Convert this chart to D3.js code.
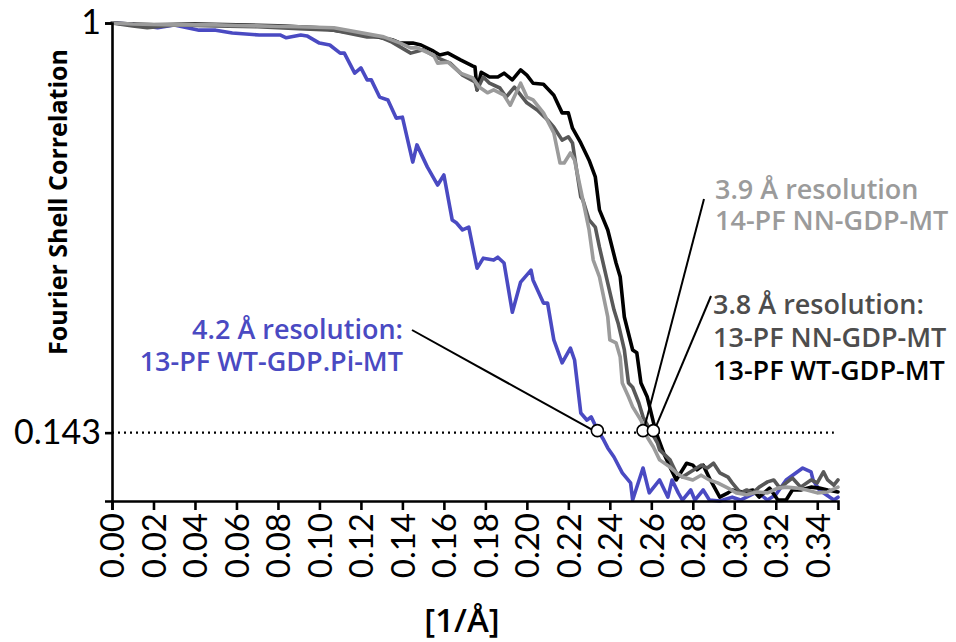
<!DOCTYPE html>
<html>
<head>
<meta charset="utf-8">
<script src="https://cdn.jsdelivr.net/npm/d3@7"></script>
<style>
  html, body { margin: 0; padding: 0; background: #fff; }
  svg { display: block; }
</style>
</head>
<body>
<svg id="chart" width="956" height="642"></svg>
<script>
// ---------- DATA ----------
const xTicks = [0.00,0.02,0.04,0.06,0.08,0.10,0.12,0.14,0.16,0.18,0.20,0.22,0.24,0.26,0.28,0.30,0.32,0.34];
const yTicks = [1, 0.143];
const threshold = 0.143;

// 13-PF WT-GDP.Pi-MT (blue)
const wtPiFreq = [0,0.009,0.022,0.030,0.042,0.050,0.058,0.071,0.081,0.084,0.091,0.094,0.100,0.105,0.110,0.112,0.117,0.120,0.123,0.125,0.129,0.133,0.137,0.140,0.145,0.147,0.152,0.157,0.160,0.164,0.166,0.169,0.172,0.176,0.179,0.184,0.186,0.189,0.193,0.197,0.202,0.203,0.208,0.210,0.213,0.217,0.221,0.223,0.226,0.229,0.231,0.234,0.237,0.239,0.242,0.246,0.250,0.251,0.256,0.259,0.264,0.268,0.270,0.273,0.275,0.279,0.281,0.285,0.288,0.293,0.299,0.303,0.311,0.316,0.320,0.325,0.333,0.337,0.338,0.341,0.348,0.350];
const wtPiFsc  = [1.000,0.998,0.990,0.996,0.985,0.985,0.979,0.975,0.975,0.969,0.975,0.973,0.958,0.954,0.937,0.937,0.895,0.906,0.881,0.881,0.845,0.839,0.801,0.803,0.709,0.745,0.699,0.661,0.682,0.588,0.582,0.567,0.573,0.487,0.508,0.504,0.510,0.498,0.395,0.458,0.483,0.462,0.414,0.414,0.337,0.289,0.320,0.295,0.184,0.169,0.176,0.149,0.128,0.111,0.092,0.059,0.038,0.002,0.069,0.017,0.044,0.008,0.044,0.017,0.002,0.023,0.002,0.023,0.002,0.000,0.008,0.002,0.019,0.002,0.013,0.044,0.069,0.061,0.044,0.023,0.002,0.008];

// 13-PF WT-GDP-MT (black)
const wtFreq = [0,0.010,0.020,0.040,0.060,0.080,0.100,0.107,0.123,0.135,0.139,0.145,0.149,0.155,0.158,0.162,0.168,0.174,0.175,0.176,0.178,0.182,0.186,0.189,0.193,0.197,0.200,0.203,0.208,0.213,0.217,0.220,0.222,0.226,0.230,0.233,0.235,0.239,0.243,0.245,0.247,0.251,0.253,0.255,0.258,0.261,0.263,0.266,0.269,0.272,0.277,0.280,0.282,0.285,0.288,0.293,0.297,0.299,0.304,0.309,0.312,0.317,0.321,0.325,0.328,0.332,0.337,0.341,0.345,0.350];
const wtFsc  = [1.000,0.998,0.996,0.998,0.996,0.994,0.990,0.985,0.975,0.965,0.958,0.958,0.954,0.941,0.933,0.937,0.923,0.910,0.908,0.860,0.897,0.887,0.887,0.895,0.881,0.902,0.891,0.874,0.872,0.849,0.812,0.812,0.780,0.749,0.713,0.678,0.609,0.567,0.498,0.469,0.385,0.316,0.310,0.247,0.218,0.165,0.135,0.100,0.071,0.044,0.079,0.075,0.065,0.075,0.048,0.008,0.017,0.023,0.019,0.023,0.008,0.027,0.002,0.002,0.023,0.023,0.029,0.027,0.023,0.019];

// 13-PF NN-GDP-MT (dark grey)
const nn13Freq = [0,0.010,0.017,0.030,0.050,0.070,0.090,0.107,0.123,0.129,0.135,0.144,0.150,0.157,0.163,0.169,0.175,0.176,0.179,0.182,0.187,0.190,0.194,0.200,0.205,0.210,0.213,0.217,0.220,0.222,0.224,0.226,0.227,0.230,0.233,0.235,0.239,0.242,0.244,0.247,0.249,0.251,0.254,0.256,0.259,0.263,0.264,0.269,0.272,0.275,0.279,0.284,0.287,0.290,0.293,0.297,0.299,0.303,0.306,0.309,0.312,0.316,0.319,0.322,0.325,0.328,0.332,0.337,0.340,0.343,0.345,0.348,0.350];
const nn13Fsc  = [1.000,0.994,0.990,0.996,0.994,0.992,0.988,0.985,0.971,0.971,0.960,0.937,0.944,0.927,0.916,0.891,0.877,0.860,0.887,0.874,0.864,0.845,0.866,0.833,0.818,0.797,0.782,0.755,0.762,0.749,0.692,0.636,0.630,0.588,0.573,0.531,0.456,0.400,0.372,0.316,0.247,0.238,0.205,0.176,0.152,0.121,0.107,0.086,0.059,0.050,0.061,0.075,0.069,0.079,0.059,0.050,0.038,0.017,0.023,0.017,0.029,0.040,0.044,0.027,0.038,0.048,0.029,0.044,0.038,0.061,0.044,0.033,0.044];

// 14-PF NN-GDP-MT (light grey)
const nn14Freq = [0,0.010,0.030,0.050,0.070,0.090,0.107,0.131,0.139,0.144,0.147,0.155,0.157,0.162,0.168,0.174,0.177,0.181,0.184,0.189,0.192,0.197,0.200,0.203,0.208,0.213,0.216,0.218,0.221,0.223,0.226,0.227,0.230,0.232,0.235,0.239,0.240,0.243,0.245,0.246,0.249,0.251,0.255,0.258,0.261,0.264,0.269,0.272,0.275,0.280,0.284,0.288,0.292,0.297,0.301,0.306,0.311,0.316,0.321,0.325,0.330,0.335,0.340,0.345,0.350];
const nn14Fsc  = [1.000,0.998,0.996,0.996,0.994,0.992,0.990,0.971,0.958,0.948,0.948,0.933,0.916,0.918,0.895,0.885,0.866,0.854,0.860,0.849,0.828,0.874,0.845,0.839,0.812,0.770,0.707,0.707,0.728,0.713,0.651,0.630,0.567,0.504,0.469,0.385,0.337,0.331,0.301,0.247,0.218,0.197,0.169,0.134,0.113,0.086,0.071,0.059,0.050,0.044,0.054,0.044,0.038,0.027,0.017,0.013,0.019,0.017,0.027,0.029,0.027,0.023,0.017,0.019,0.029];

// resolution markers (frequency where FSC crosses 0.143)
const markerFreq = [0.234, 0.256, 0.261];

// ---------- CHART ----------
const svg = d3.select("#chart");
const x = d3.scaleLinear().domain([0, 0.35]).range([112, 838]);
const y = d3.scaleLinear().domain([0, 1]).range([501, 23]);

const series = [
  {f: wtPiFreq, v: wtPiFsc, color: "#4a4ac2"},
  {f: wtFreq,   v: wtFsc,   color: "#000000"},
  {f: nn13Freq, v: nn13Fsc, color: "#585858"},
  {f: nn14Freq, v: nn14Fsc, color: "#9b9b9b"}
];

const line = d3.line().x(d => x(d[0])).y(d => y(d[1]));

// threshold dotted line
svg.append("line")
  .attr("x1", x(0)).attr("x2", x(0.348))
  .attr("y1", y(threshold)).attr("y2", y(threshold))
  .attr("stroke", "#000").attr("stroke-width", 2.2)
  .attr("stroke-dasharray", "2,4");

series.forEach(s => {
  svg.append("path")
    .datum(s.f.map((f, i) => [f, s.v[i]]))
    .attr("d", line)
    .attr("fill", "none")
    .attr("stroke", s.color)
    .attr("stroke-width", 3.6)
    .attr("stroke-linejoin", "round")
    .attr("stroke-linecap", "round");
});

// axes
const font = "Lato, 'Open Sans', sans-serif";
const xAxis = svg.append("g")
  .attr("transform", `translate(0,${y(0)})`)
  .call(d3.axisBottom(x).tickValues(xTicks).tickFormat(d3.format(".2f")).tickSizeOuter(0).tickSize(9));
xAxis.select(".domain").attr("stroke", "#000").attr("stroke-width", 2.6);
xAxis.selectAll(".tick line").attr("stroke", "#000").attr("stroke-width", 2.6);
xAxis.selectAll(".tick text")
  .attr("transform", "rotate(-90)")
  .attr("x", -12).attr("y", 0).attr("dy", "0.36em")
  .attr("text-anchor", "end")
  .attr("font-family", font).attr("font-size", 33).attr("fill", "#000");

const yAxis = svg.append("g")
  .attr("transform", `translate(${x(0)},0)`)
  .call(d3.axisLeft(y).tickValues(yTicks).tickFormat(d => d === 1 ? "1" : "0.143").tickSizeOuter(0).tickSize(7));
yAxis.select(".domain").attr("stroke", "#000").attr("stroke-width", 2.6);
yAxis.selectAll(".tick line").attr("stroke", "#000").attr("stroke-width", 2.6);
yAxis.selectAll(".tick text")
  .attr("x", -11)
  .attr("font-family", font).attr("font-size", 34).attr("fill", "#000");

// axis titles
svg.append("text")
  .attr("transform", `translate(67,202) rotate(-90)`)
  .attr("text-anchor", "middle")
  .attr("font-family", "'Open Sans', sans-serif").attr("font-weight", 700)
  .attr("font-size", 25).text("Fourier Shell Correlation");

svg.append("text")
  .attr("x", 462).attr("y", 632)
  .attr("text-anchor", "middle")
  .attr("font-family", "'Open Sans', sans-serif").attr("font-weight", 600)
  .attr("font-size", 33).text("[1/Å]");

// annotation pointer lines
const pointers = [
  {x1: 412, y1: 330, f: markerFreq[0]},
  {x1: 704, y1: 199, f: markerFreq[1]},
  {x1: 711, y1: 296, f: markerFreq[2]}
];
pointers.forEach(p => {
  svg.append("line")
    .attr("x1", p.x1).attr("y1", p.y1)
    .attr("x2", x(p.f)).attr("y2", y(threshold))
    .attr("stroke", "#000").attr("stroke-width", 2);
});

// markers
svg.selectAll("circle.m").data(markerFreq).enter().append("circle")
  .attr("class", "m")
  .attr("cx", d => x(d)).attr("cy", y(threshold) - 2)
  .attr("r", 6)
  .attr("fill", "#fff").attr("stroke", "#000").attr("stroke-width", 1.6);

// annotation texts
const ann = [
  {t: "3.9 Å resolution", x: 715, y: 199, c: "#9b9b9b", a: "start"},
  {t: "14-PF NN-GDP-MT", x: 715, y: 230, c: "#9b9b9b", a: "start"},
  {t: "3.8 Å resolution:", x: 713, y: 314, c: "#4d4d4d", a: "start"},
  {t: "13-PF NN-GDP-MT", x: 713, y: 347, c: "#4d4d4d", a: "start"},
  {t: "13-PF WT-GDP-MT", x: 713, y: 380, c: "#000000", a: "start"},
  {t: "4.2 Å resolution:", x: 403, y: 339, c: "#4a4ac2", a: "end"},
  {t: "13-PF WT-GDP.Pi-MT", x: 403, y: 371, c: "#4a4ac2", a: "end"}
];
ann.forEach(d => {
  svg.append("text")
    .attr("x", d.x).attr("y", d.y)
    .attr("text-anchor", d.a)
    .attr("font-family", "'Open Sans', sans-serif").attr("font-weight", 600)
    .attr("font-size", 27).attr("fill", d.c)
    .text(d.t);
});
</script>
</body>
</html>
